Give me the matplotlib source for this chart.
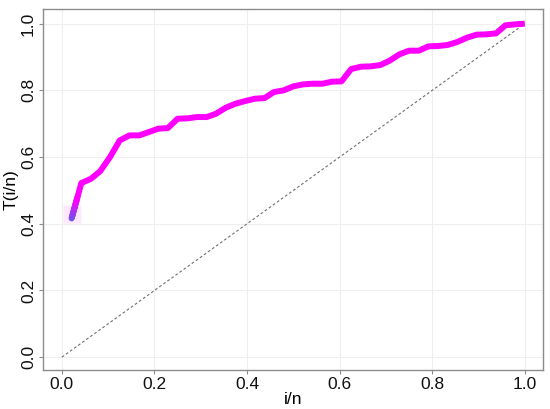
import matplotlib
matplotlib.use('Agg')
import matplotlib.pyplot as plt
import numpy as np
from matplotlib.collections import LineCollection
from matplotlib.colors import to_rgba

# i/n positions (n = 48) and T(i/n)
x_vals = [0.021, 0.042, 0.063, 0.083, 0.104, 0.125, 0.146, 0.167, 0.188, 0.208,
          0.229, 0.250, 0.271, 0.292, 0.313, 0.333, 0.354, 0.375, 0.396, 0.417,
          0.438, 0.458, 0.479, 0.500, 0.521, 0.542, 0.563, 0.583, 0.604, 0.625,
          0.646, 0.667, 0.688, 0.708, 0.729, 0.750, 0.771, 0.792, 0.813, 0.833,
          0.854, 0.875, 0.896, 0.917, 0.938, 0.958, 0.979, 1.000]
t_vals = [0.416, 0.522, 0.535, 0.558, 0.600, 0.650, 0.665, 0.665, 0.675, 0.685,
          0.687, 0.715, 0.716, 0.720, 0.720, 0.730, 0.748, 0.760, 0.768, 0.775,
          0.777, 0.795, 0.800, 0.812, 0.818, 0.820, 0.820, 0.826, 0.827, 0.864,
          0.871, 0.872, 0.876, 0.889, 0.908, 0.919, 0.919, 0.932, 0.933, 0.936,
          0.945, 0.958, 0.967, 0.968, 0.971, 0.995, 0.998, 1.000]
diag = [0.0, 1.0]
ticks = [0.0, 0.2, 0.4, 0.6, 0.8, 1.0]

plt.rcParams['font.family'] = ['Liberation Sans', 'DejaVu Sans']

fig = plt.figure(figsize=(5.5, 4.09), dpi=100)
ax = fig.add_axes([0.078, 0.095, 0.909, 0.883])

ax.grid(True, color='#efefef', lw=0.8)
ax.set_axisbelow(True)

ax.plot(diag, diag, color='#707070', lw=0.8, ls=(0, (2.5, 2)))

# faint square behind the first point
ax.plot(x_vals[0], t_vals[0] + 0.012, marker='s', ms=13, color='#fde8fd',
        mec='none', zorder=2)

ax.plot(x_vals, t_vals, color='#ff00ff', lw=4.3, solid_capstyle='butt',
        solid_joinstyle='round', zorder=3)

# blue-to-magenta fade on the first segment
fr = np.linspace(0, 0.6, 13)
px = x_vals[0] + fr * (x_vals[1] - x_vals[0])
py = t_vals[0] + fr * (t_vals[1] - t_vals[0])
segs = [[(px[k], py[k]), (px[k + 1], py[k + 1])] for k in range(len(px) - 1)]
c0 = np.array(to_rgba('#6f55e6'))
c1 = np.array(to_rgba('#ff00ff'))
cols = [c0 + (c1 - c0) * (k / (len(segs) - 1)) for k in range(len(segs))]
ax.add_collection(LineCollection(segs, colors=cols, lw=4.3, capstyle='round', zorder=4))

ax.set_xlim(-0.041, 1.039)
ax.set_ylim(-0.039, 1.044)
ax.set_xticks(ticks)
ax.set_yticks(ticks)
ax.set_xticklabels([f'{v:.1f}' for v in ticks])
ax.set_yticklabels([f'{v:.1f}' for v in ticks], rotation=90, va='center')

for s in ax.spines.values():
    s.set_color('#8c8c8c')
    s.set_linewidth(1.0)
ax.tick_params(axis='both', length=3, width=0.8, color='#8c8c8c',
               labelsize=12.5, labelcolor='#111111', pad=2)

ax.set_xlabel('i/n', fontsize=12.5, labelpad=0)
ax.set_ylabel('T(i/n)', fontsize=12.5, labelpad=2)

fig.savefig('out.png', dpi=100)
